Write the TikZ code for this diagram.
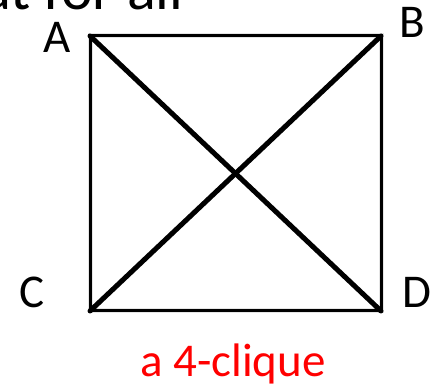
\documentclass[tikz,border=0pt]{standalone}
\usepackage{fontspec}
\setmainfont{Carlito}
\begin{document}
\begin{tikzpicture}[x=1pt,y=1pt,
  lbl/.style={font=\fontsize{47}{52}\selectfont, inner sep=0pt},
  side/.style={line width=3pt, line cap=round},
  diag/.style={line width=5pt, line cap=round},
  shade/.style={line width=5pt, draw=black, opacity=0.1}]
\useasboundingbox (0,0) rectangle (436,387);
\clip (0,0) rectangle (436,387);
\coordinate (A) at (90,351);
\coordinate (B) at (381,351);
\coordinate (C) at (90,76);
\coordinate (D) at (381,76);
\node[font=\fontsize{60}{66}\selectfont, inner sep=0pt, anchor=base west] (top) at (-18,377) {at for all};
\node[lbl] (la) at (57,350) {A};
\node[lbl] (lb) at (412,365) {B};
\node[lbl] (lc) at (32,95) {C};
\node[lbl] (ld) at (417,95) {D};
\node[lbl, text=red, anchor=base] (cap) at (233,10) {a 4-clique};
\begin{scope}[shift={(2,-2.5)}]
\draw[shade] (A) -- (B) -- (D) -- (C) -- cycle;
\draw[shade] (A) -- (D);
\draw[shade] (B) -- (C);
\end{scope}
\draw[side] (A) -- (B);
\draw[side] (B) -- (D);
\draw[side] (D) -- (C);
\draw[side] (C) -- (A);
\draw[diag] (A) -- (D);
\draw[diag] (B) -- (C);
\end{tikzpicture}
\end{document}
